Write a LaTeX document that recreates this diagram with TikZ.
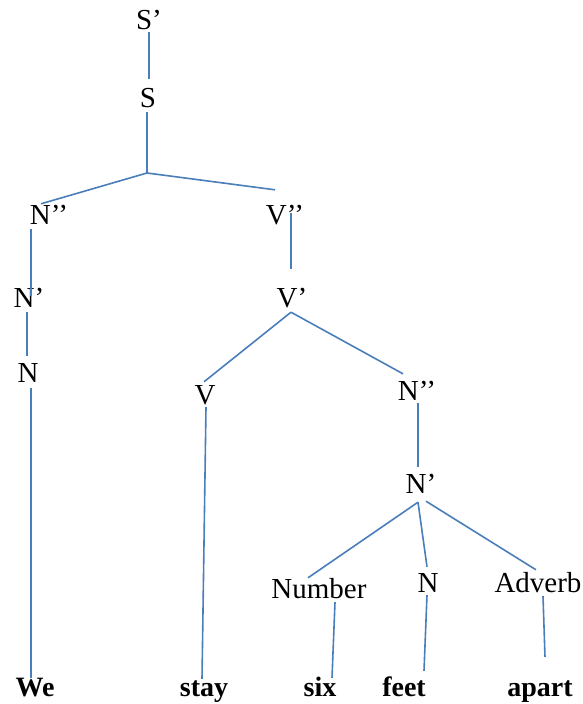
\documentclass[tikz,border=0pt]{standalone}
\usepackage{fontspec}
\setmainfont{Liberation Serif}
\usepackage{tikz}
\usetikzlibrary{calc}
\definecolor{TreeBlue}{HTML}{4A7EBB}
\tikzset{
  cat/.style={inner sep=0pt,text height=19pt,text depth=0pt,anchor=base,
    font=\fontsize{29}{32}\selectfont},
  word/.style={cat,font=\fontsize{28}{32}\selectfont\bfseries},
  branch/.style={draw=TreeBlue,line width=1.6pt}
}
\begin{document}
\begin{tikzpicture}[x=1pt,y=-1pt]
  \useasboundingbox (0,0) rectangle (583,704);
  % category labels
  \node[cat] (sp)  at (149,29)  {S’};
  \node[cat] (s)   at (148,107) {S};
  \coordinate (j) at (147,173);
  \node[cat] (npa) at (49,224)  {N’’};
  \node[cat] (vpp) at (285,224) {V’’};
  \node[cat] (nba) at (29,307)  {N’};
  \node[cat] (na)  at (28,382)  {N};
  \node[cat] (vb)  at (292,307) {V’};
  \node[cat] (v)   at (205,404) {V};
  \node[cat] (npb) at (417,400) {N’’};
  \node[cat] (nbb) at (421,493) {N’};
  \node[cat] (num) at (319,598) {Number};
  \node[cat] (nc)  at (428,592) {N};
  \node[cat] (adv) at (538,592) {Adverb};
  % words
  \node[word] (we)    at (35,696)  {We};
  \node[word] (stay)  at (204,696) {stay};
  \node[word] (six)   at (320,696) {six};
  \node[word] (feet)  at (404,696) {feet};
  \node[word] (apart) at (540,696) {apart};
  % branches
  \draw[branch] ($(sp.south)+(0,3)$) -- ($(s.north)+(1,-9)$);
  \draw[branch] ($(s.south)+(-1,5)$) -- (j);
  \draw[branch] (j) -- ($(npa.north)+(-8,-1)$);
  \draw[branch] (j) -- ($(vpp.north)+(-10,-15)$);
  \draw[branch] ($(npa.south)+(-18,5)$) -- ($(nba.north)+(2,8)$);
  \draw[branch] ($(nba.south)+(-2,5)$) -- ($(na.north)+(-1,-7)$);
  \draw[branch] ($(na.south)+(3,6)$) -- ($(we.north)+(-4,1)$);
  \draw[branch] ($(vpp.north)+(6,8)$) -- ($(vb.north)+(-1,-19)$);
  \draw[branch] ($(vb.south)+(-1,5)$) -- ($(v.north)+(-1,-3)$);
  \draw[branch] ($(vb.south)+(-1,5)$) -- ($(npb.north)+(-14,-7)$);
  \draw[branch] ($(v.south)+(1,3)$) -- ($(stay.north)+(-2,2)$);
  \draw[branch] ($(npb.south)+(1,3)$) -- ($(nbb.north)+(-3,-7)$);
  \draw[branch] ($(nbb.south)+(-3,9)$) -- ($(num.north)+(-11,-1)$);
  \draw[branch] ($(nbb.south)+(-3,9)$) -- ($(nc.north)+(-1,-6)$);
  \draw[branch] ($(nbb.south)+(5,8)$) -- ($(adv.north)+(-2,-3)$);
  \draw[branch] ($(num.south)+(16,4)$) -- ($(six.north)+(12,1)$);
  \draw[branch] ($(nc.south)+(-1,3)$) -- ($(feet.north)+(20,-6)$);
  \draw[branch] ($(adv.south)+(5,4)$) -- ($(apart.north)+(5,-20)$);
\end{tikzpicture}
\end{document}
